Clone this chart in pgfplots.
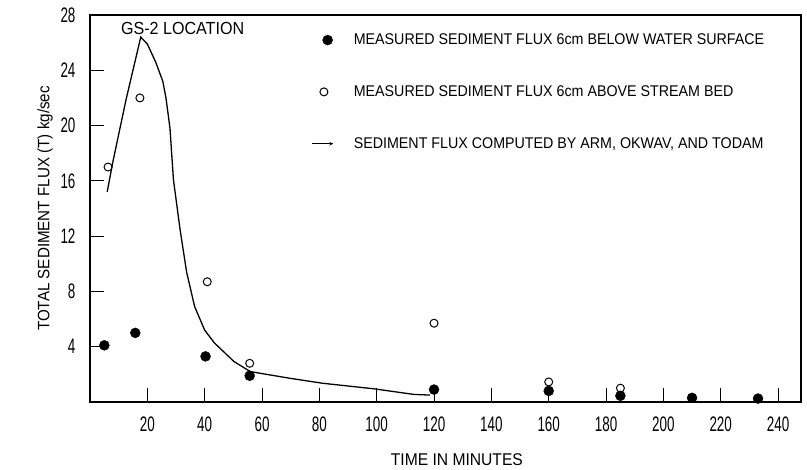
\documentclass[border=0pt]{standalone}
\usepackage{fontspec}
\setmainfont{Liberation Sans}[FakeStretch=0.92]
\newfontfamily\tickfont{Liberation Sans}[FakeStretch=0.64]
\usepackage{pgfplots}
\pgfplotsset{compat=1.18}
\usetikzlibrary{arrows.meta}

\begin{document}
\begin{tikzpicture}
\begin{axis}[
  scale only axis, width=711pt, height=387pt,
  xmin=0, xmax=248, ymin=0, ymax=28,
  xtick={20,40,...,240}, ytick={4,8,...,28},
  tick pos=left, tick align=inside,
  major tick length=14pt,
  every tick/.style={black, line width=0.9pt},
  axis line style={line width=1.2pt},
  /pgf/number format/assume math mode=true,
  ticklabel style={font=\tickfont\fontsize{21}{21}\selectfont},
  yticklabel style={xshift=-11pt},
  xticklabel style={yshift=-11pt},
  xlabel={TIME IN MINUTES},
  ylabel={TOTAL SEDIMENT FLUX (T) kg/sec},
  xlabel style={font=\fontsize{17}{17}\selectfont, at={(axis description cs:0.516,-0.15)}, anchor=center},
  ylabel style={font=\fontsize{16.5}{16.5}\selectfont, at={(axis description cs:-0.063,0.5)}, anchor=center},
  legend style={draw=none, fill=none, at={(axis description cs:0.307,0.962)}, anchor=north west,
    font=\fontsize{15.5}{15.5}\selectfont, /tikz/row sep=35.5pt, /tikz/column sep=18pt},
  legend cell align=left,
]
\addplot[only marks, mark=*, mark size=5pt, black,
  legend image code/.code={\path[draw=none] (0cm,0cm) -- (0.75cm,0cm); \draw[only marks, mark indices={2}] plot coordinates {(0cm,0cm) (0.55cm,0cm) (0.75cm,0cm)};}]
  coordinates {(5,4.1) (15.8,5.0) (40.3,3.3) (55.7,1.9) (120,0.9) (160,0.8) (185,0.45) (210,0.3) (233,0.25)};
\addlegendentry{MEASURED SEDIMENT FLUX 6cm BELOW WATER SURFACE}
\addplot[only marks, mark=o, mark size=4pt, black, line width=1pt,
  legend image code/.code={\path[draw=none] (0cm,0cm) -- (0.75cm,0cm); \draw[only marks, mark indices={2}] plot coordinates {(0cm,0cm) (0.42cm,0cm) (0.75cm,0cm)};}]
  coordinates {(6.3,17.0) (17.4,22.0) (40.9,8.7) (55.7,2.8) (120,5.7) (160,1.45) (185,1.0)};
\addlegendentry{MEASURED SEDIMENT FLUX 6cm ABOVE STREAM BED}
\addplot[black, line width=1.3pt,
  legend image code/.code={\draw[line width=1pt,-{Stealth[length=4pt,width=3.5pt]}] (0cm,0cm) -- (0.75cm,0cm);}]
  coordinates {(6.0,15.2) (8.0,17.4) (12.6,21.9) (17.7,26.4) (20,25.9) (22.9,24.6) (25.4,23.2)
   (26.5,22.0) (27.9,19.8) (29.1,16.1) (31.4,12.5) (33.7,9.4) (36.5,6.9) (40,5.2) (43.4,4.27)
   (50.2,2.93) (55.9,2.2) (69.6,1.72) (81,1.36) (99.2,0.95) (112.9,0.55) (118.6,0.5)};
\addlegendentry{SEDIMENT FLUX COMPUTED BY ARM, OKWAV, AND TODAM}
\node[font=\fontsize{17.5}{17.5}\selectfont] at (axis cs:32.3,27.05) {GS-2 LOCATION};
\end{axis}
\path ([shift={(-90pt,-65pt)}]current axis.south west) rectangle ([shift={(6pt,15pt)}]current axis.north east);
\end{tikzpicture}
\end{document}
